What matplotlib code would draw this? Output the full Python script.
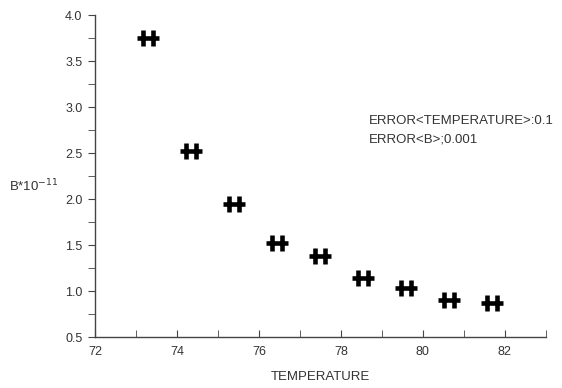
import matplotlib
matplotlib.use('Agg')
import matplotlib.pyplot as plt
from matplotlib.path import Path
from matplotlib.ticker import MultipleLocator

# Données
temperature = [73.3, 74.35, 75.4, 76.45, 77.5, 78.55, 79.6, 80.65, 81.7]
b_valeurs = [3.75, 2.52, 1.95, 1.52, 1.38, 1.14, 1.03, 0.90, 0.87]
x_ticks = [72, 74, 76, 78, 80, 82]
y_ticks = [0.5, 1.0, 1.5, 2.0, 2.5, 3.0, 3.5, 4.0]

plt.rcParams['font.family'] = ['Liberation Sans', 'DejaVu Sans']

# Marqueur en forme de "#" couché : barre horizontale + deux barres verticales
marqueur = Path(
    [(-1, 0), (1, 0), (-0.42, -0.7), (-0.42, 0.7), (0.42, -0.7), (0.42, 0.7)],
    [Path.MOVETO, Path.LINETO, Path.MOVETO, Path.LINETO, Path.MOVETO, Path.LINETO],
)

fig = plt.figure(figsize=(5.62, 3.88), dpi=100)
ax = fig.add_axes([0.169, 0.131, 0.802, 0.830])

ax.plot(temperature, b_valeurs, linestyle='none', marker=marqueur,
        markersize=15.5, markeredgewidth=3.3, color='black')

ax.set_xlim(72, 83)
ax.set_ylim(0.5, 4.0)
ax.set_xticks(x_ticks)
ax.set_yticks(y_ticks)
ax.set_yticklabels([f'{v:.1f}' for v in y_ticks])
ax.xaxis.set_minor_locator(MultipleLocator(1))
ax.yaxis.set_minor_locator(MultipleLocator(0.25))

gris = '#444444'
texte = '#333333'
for cote in ['top', 'right']:
    ax.spines[cote].set_visible(False)
for cote in ['left', 'bottom']:
    ax.spines[cote].set_color(gris)
    ax.spines[cote].set_linewidth(1.0)

ax.tick_params(axis='x', which='both', direction='in', length=5, color=gris,
               labelsize=9, labelcolor=texte, pad=6)
ax.tick_params(axis='y', which='both', direction='out', length=5, color=gris,
               labelsize=9, labelcolor=texte, pad=4)

ax.set_xlabel('TEMPERATURE', fontsize=9.5, color=texte, labelpad=10)
fig.text(9 / 562, 1 - 186 / 388, r'B*10$^{-11}$', fontsize=9.5, color=texte,
         va='center', ha='left')

fig.text(369 / 562, 1 - 121 / 388, 'ERROR<TEMPERATURE>:0.1', fontsize=9.5,
         color=texte, va='center', ha='left')
fig.text(369 / 562, 1 - 139 / 388, 'ERROR<B>;0.001', fontsize=9.5,
         color=texte, va='center', ha='left')

fig.savefig('out.png', dpi=100)
